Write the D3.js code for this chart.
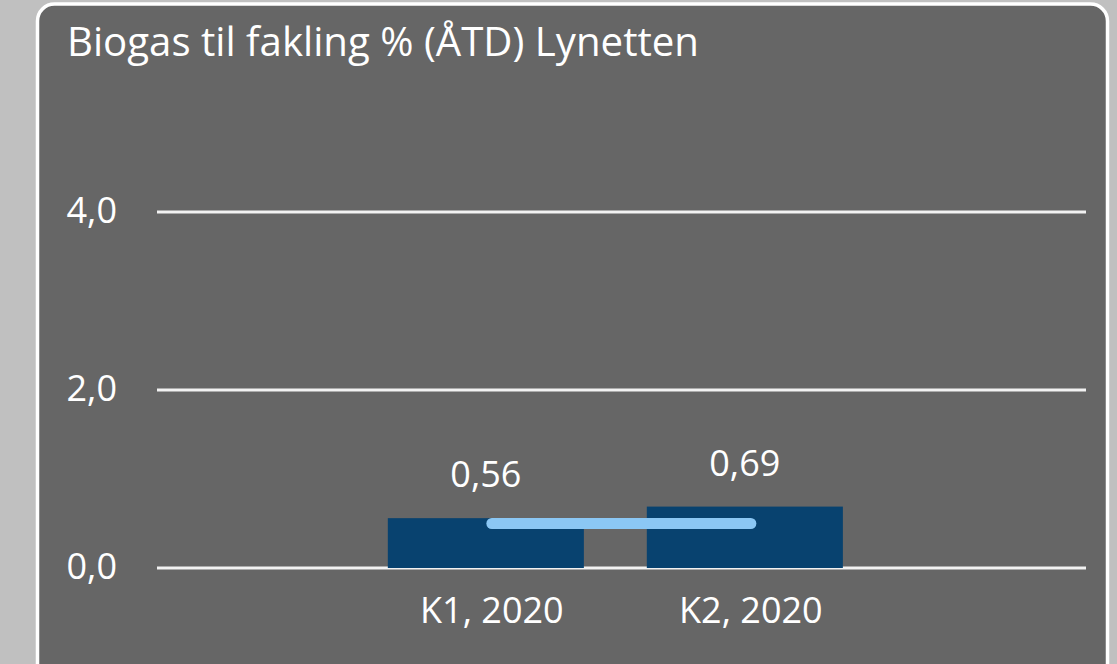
<!DOCTYPE html>
<html><head><meta charset="utf-8">
<script src="https://cdn.jsdelivr.net/npm/d3@7"></script>
<style>html,body{margin:0;padding:0;background:#c0c0c0;}svg{display:block;}</style>
</head><body>
<script>
const title = "Biogas til fakling % (ÅTD) Lynetten";
const categories = ["K1, 2020", "K2, 2020"];
const barValues = [0.56, 0.69];
const barLabels = ["0,56", "0,69"];
const lineValues = [0.5, 0.5];
const yTicks = [0, 2, 4];
const yTickLabels = ["0,0", "2,0", "4,0"];

const W = 1117, H = 664;
const svg = d3.select("body").append("svg").attr("width", W).attr("height", H);
svg.append("rect").attr("width", W).attr("height", H).attr("fill", "#c0c0c0");
svg.append("rect").attr("x", 37.5).attr("y", 4).attr("width", 1070).attr("height", 720)
  .attr("rx", 17).attr("fill", "#666666").attr("stroke", "#ffffff").attr("stroke-width", 3.5);

const font = "'Open Sans', sans-serif";
svg.append("text").attr("x", 67).attr("y", 56).attr("fill", "#fff")
  .attr("font-family", font).attr("font-size", 40).attr("textLength", 632)
  .attr("lengthAdjust", "spacingAndGlyphs").text(title);

const x0 = 157, x1 = 1086;
const y = d3.scaleLinear().domain([0, 4]).range([568, 212]);
const x = d3.scaleBand().domain(categories).range([x0, x1])
  .paddingInner(0.243).paddingOuter(0.915).align(0.487);
const shift = 6;

// gridlines
svg.append("g").selectAll("line").data(yTicks).join("line")
  .attr("x1", x0).attr("x2", x1).attr("y1", d => y(d)).attr("y2", d => y(d))
  .attr("stroke", "#f2f2f2").attr("stroke-width", 3);

svg.append("g").selectAll("text").data(yTicks).join("text")
  .attr("x", 117).attr("y", d => y(d) + 11).attr("text-anchor", "end")
  .attr("fill", "#fff").attr("font-family", font).attr("font-size", 36)
  .text((d, i) => yTickLabels[i]);

// bars
svg.append("g").selectAll("rect").data(barValues).join("rect")
  .attr("x", (d, i) => x(categories[i])).attr("width", x.bandwidth())
  .attr("y", d => y(d)).attr("height", d => y(0) - y(d)).attr("fill", "#08426f");

// line
const line = d3.line().x((d, i) => x(categories[i]) + x.bandwidth() / 2 + shift).y(d => y(d));
svg.append("path").datum(lineValues).attr("d", line).attr("fill", "none")
  .attr("stroke", "#8bc7f4").attr("stroke-width", 11).attr("stroke-linecap", "round");

// value labels
svg.append("g").selectAll("text").data(barValues).join("text")
  .attr("x", (d, i) => x(categories[i]) + x.bandwidth() / 2).attr("y", d => y(d) - 31)
  .attr("text-anchor", "middle").attr("fill", "#fff").attr("font-family", font).attr("font-size", 36)
  .text((d, i) => barLabels[i]);

// category labels
svg.append("g").selectAll("text").data(categories).join("text")
  .attr("x", d => x(d) + x.bandwidth() / 2 + shift).attr("y", 623)
  .attr("text-anchor", "middle").attr("fill", "#fff").attr("font-family", font).attr("font-size", 36)
  .text(d => d);
</script>
</body></html>
